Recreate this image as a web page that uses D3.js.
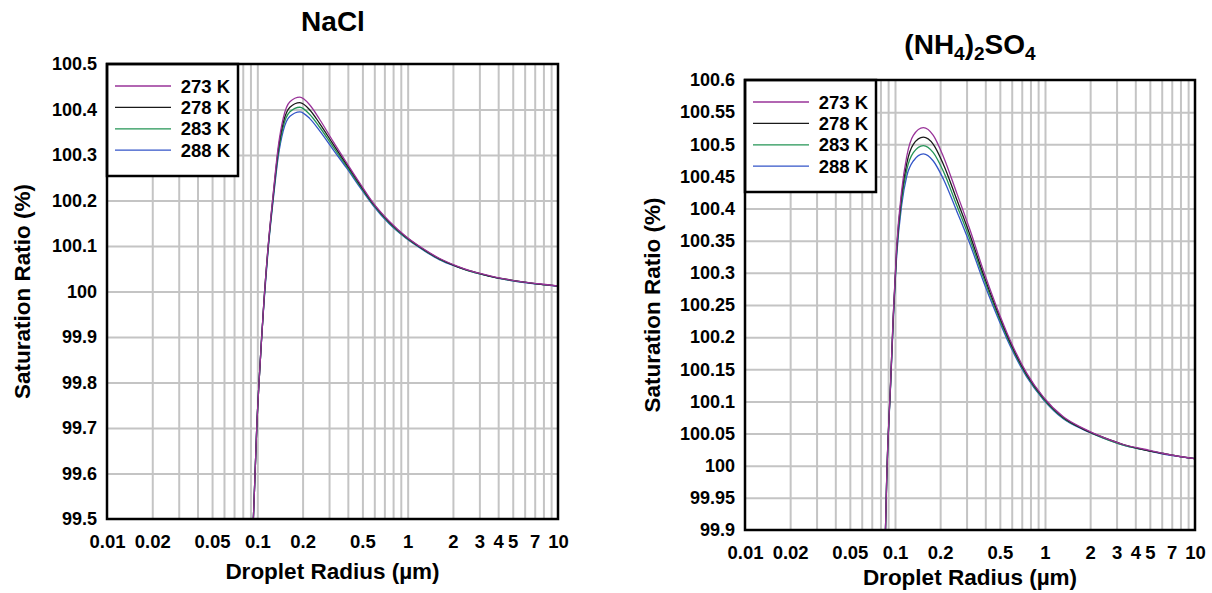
<!DOCTYPE html>
<html>
<head>
<meta charset="utf-8">
<script src="https://cdn.jsdelivr.net/npm/d3@7"></script>
<style>
  html, body { margin: 0; padding: 0; background: #fff; }
  svg { display: block; }
  text { font-family: "Liberation Sans", Arial, sans-serif; font-weight: bold; fill: #000; }
</style>
</head>
<body>
<svg id="chart" width="1212" height="593"></svg>
<script>
// ---------- data ----------
const seriesNames = ["273 K", "278 K", "283 K", "288 K"];
const seriesColors = ["#993399", "#1a1a1a", "#239455", "#3355c8"];

const xTickValues = [0.01, 0.02, 0.05, 0.1, 0.2, 0.5, 1, 2, 3, 4, 5, 7, 10];
const xTickLabels = ["0.01", "0.02", "0.05", "0.1", "0.2", "0.5", "1", "2", "3", "4", "5", "7", "10"];

// NaCl panel
const naclTicksY = [99.5, 99.6, 99.7, 99.8, 99.9, 100, 100.1, 100.2, 100.3, 100.4, 100.5];
const naclTickLabelsY = ["99.5", "99.6", "99.7", "99.8", "99.9", "100", "100.1", "100.2", "100.3", "100.4", "100.5"];
const naclRadius = [0.0941, 0.0966, 0.0991, 0.1026, 0.1069, 0.1107, 0.118, 0.1276, 0.1377, 0.1487, 0.1647, 0.1918, 0.2234, 0.26, 0.319, 0.391, 0.479, 0.586, 0.757, 0.975, 1.257, 1.622, 2.09, 2.69, 3.48, 4.5, 5.8, 7.5, 10];
const nacl273 = [99.50, 99.60, 99.70, 99.80, 99.90, 99.98, 100.100, 100.216, 100.318, 100.381, 100.417, 100.427, 100.410, 100.378, 100.330, 100.284, 100.239, 100.196, 100.154, 100.121, 100.095, 100.073, 100.057, 100.044, 100.035, 100.027, 100.021, 100.017, 100.012];
const nacl278 = [99.50, 99.60, 99.70, 99.80, 99.90, 99.98, 100.098, 100.212, 100.311, 100.371, 100.405, 100.415, 100.399, 100.369, 100.324, 100.280, 100.236, 100.194, 100.152, 100.120, 100.094, 100.072, 100.056, 100.044, 100.034, 100.027, 100.021, 100.016, 100.012];
const nacl283 = [99.50, 99.60, 99.70, 99.80, 99.90, 99.978, 100.095, 100.207, 100.303, 100.362, 100.395, 100.405, 100.389, 100.361, 100.318, 100.276, 100.233, 100.192, 100.150, 100.118, 100.093, 100.071, 100.056, 100.043, 100.034, 100.026, 100.021, 100.016, 100.012];
const nacl288 = [99.50, 99.60, 99.70, 99.80, 99.90, 99.975, 100.092, 100.202, 100.296, 100.353, 100.385, 100.395, 100.380, 100.353, 100.312, 100.272, 100.230, 100.190, 100.148, 100.117, 100.092, 100.070, 100.055, 100.043, 100.034, 100.026, 100.020, 100.016, 100.011];

// (NH4)2SO4 panel
const amsTicksY = [99.9, 99.95, 100, 100.05, 100.1, 100.15, 100.2, 100.25, 100.3, 100.35, 100.4, 100.45, 100.5, 100.55, 100.6];
const amsTickLabelsY = ["99.9", "99.95", "100", "100.05", "100.1", "100.15", "100.2", "100.25", "100.3", "100.35", "100.4", "100.45", "100.5", "100.55", "100.6"];
const amsRadius = [0.0864, 0.088, 0.0936, 0.0975, 0.1026, 0.1109, 0.1197, 0.1325, 0.1545, 0.180, 0.210, 0.258, 0.316, 0.388, 0.476, 0.584, 0.755, 0.974, 1.325, 1.80, 2.45, 3.33, 4.52, 6.15, 9.26, 10];
const ams273 = [99.90, 99.978, 100.133, 100.237, 100.341, 100.429, 100.481, 100.514, 100.526, 100.514, 100.481, 100.424, 100.367, 100.304, 100.247, 100.196, 100.144, 100.107, 100.076, 100.058, 100.044, 100.033, 100.026, 100.019, 100.012, 100.011];
const ams278 = [99.90, 99.978, 100.132, 100.235, 100.337, 100.422, 100.470, 100.500, 100.511, 100.500, 100.469, 100.414, 100.359, 100.298, 100.243, 100.193, 100.142, 100.106, 100.075, 100.057, 100.044, 100.033, 100.025, 100.019, 100.012, 100.011];
const ams283 = [99.90, 99.977, 100.130, 100.232, 100.332, 100.414, 100.460, 100.487, 100.498, 100.487, 100.458, 100.405, 100.352, 100.293, 100.239, 100.190, 100.140, 100.104, 100.074, 100.057, 100.043, 100.032, 100.025, 100.019, 100.012, 100.011];
const ams288 = [99.90, 99.976, 100.128, 100.228, 100.326, 100.406, 100.450, 100.474, 100.485, 100.474, 100.446, 100.396, 100.345, 100.287, 100.235, 100.187, 100.138, 100.103, 100.073, 100.056, 100.043, 100.032, 100.025, 100.018, 100.012, 100.011];

// ---------- drawing ----------
const svg = d3.select("#chart");
const FONT = "Liberation Sans, Arial, sans-serif";

function minorGridValues() {
  const v = [];
  [0.01, 0.1, 1].forEach(dec => { for (let k = 2; k <= 10; k++) v.push(dec * k); });
  return v.filter(d => d < 10);
}

function panel(cfg) {
  const g = svg.append("g");
  const x = d3.scaleLog().domain([0.01, 10]).range([cfg.x0, cfg.x1]);
  const y = d3.scaleLinear().domain(cfg.yDomain).range([cfg.y1, cfg.y0]);
  const w = cfg.x1 - cfg.x0, h = cfg.y1 - cfg.y0;

  // vertical gridlines
  g.append("g")
    .attr("transform", `translate(0,${cfg.y1})`)
    .call(d3.axisBottom(x).tickValues(minorGridValues()).tickSize(-h).tickFormat(""))
    .call(s => s.select(".domain").remove())
    .call(s => s.selectAll("line").attr("stroke", "#c4c4c4").attr("stroke-width", 2));

  // horizontal gridlines
  g.append("g")
    .attr("transform", `translate(${cfg.x0},0)`)
    .call(d3.axisLeft(y).tickValues(cfg.yTicks.slice(1, -1)).tickSize(-w).tickFormat(""))
    .call(s => s.select(".domain").remove())
    .call(s => s.selectAll("line").attr("stroke", "#c4c4c4").attr("stroke-width", 2));

  // clip
  const clipId = "clip" + cfg.id;
  svg.append("defs").append("clipPath").attr("id", clipId)
    .append("rect").attr("x", cfg.x0).attr("y", cfg.y0).attr("width", w).attr("height", h);

  const line = d3.line().x(d => x(d[0])).y(d => y(d[1])).curve(d3.curveMonotoneX);
  const curves = g.append("g").attr("clip-path", `url(#${clipId})`);
  for (let i = cfg.series.length - 1; i >= 0; i--) {
    const pts = cfg.radius.map((r, j) => [r, cfg.series[i][j]]);
    curves.append("path").attr("d", line(pts))
      .attr("fill", "none").attr("stroke", seriesColors[i]).attr("stroke-width", 1.3);
  }

  // y tick labels
  g.append("g")
    .attr("transform", `translate(${cfg.x0},0)`)
    .call(d3.axisLeft(y).tickValues(cfg.yTicks).tickSize(0).tickPadding(10)
      .tickFormat((d, i) => cfg.yLabels[i]))
    .call(s => s.select(".domain").remove())
    .call(s => s.selectAll("text").attr("font-size", 18).attr("font-family", FONT).attr("font-weight", "bold").attr("fill", "#000"));

  // x tick labels
  g.append("g")
    .attr("transform", `translate(0,${cfg.y1})`)
    .call(d3.axisBottom(x).tickValues(xTickValues).tickSize(0).tickPadding(16)
      .tickFormat((d, i) => xTickLabels[i]))
    .call(s => s.select(".domain").remove())
    .call(s => s.selectAll("text").attr("font-size", 18.5).attr("font-family", FONT).attr("font-weight", "bold").attr("fill", "#000"));

  // legend
  const lg = g.append("g");
  lg.append("rect").attr("x", cfg.x0).attr("y", cfg.y0).attr("width", 131).attr("height", 112)
    .attr("fill", "#fff").attr("stroke", "#000").attr("stroke-width", 2.5);
  seriesNames.forEach((name, i) => {
    const yy = cfg.y0 + 22 + i * 21.4;
    lg.append("line").attr("x1", cfg.x0 + 8).attr("x2", cfg.x0 + 64).attr("y1", yy).attr("y2", yy)
      .attr("stroke", seriesColors[i]).attr("stroke-width", 1.3);
    lg.append("text").attr("x", cfg.x0 + 123).attr("y", yy).attr("dy", "0.36em")
      .attr("text-anchor", "end").attr("font-size", 18.5).text(name);
  });

  // frame
  g.append("rect").attr("x", cfg.x0).attr("y", cfg.y0).attr("width", w).attr("height", h)
    .attr("fill", "none").attr("stroke", "#000").attr("stroke-width", 2.5);

  // axis titles
  g.append("text").attr("x", (cfg.x0 + cfg.x1) / 2).attr("y", cfg.y1 + cfg.xTitleOffset)
    .attr("text-anchor", "middle").attr("font-size", 22.5).text("Droplet Radius (\u00b5m)");
  g.append("text")
    .attr("transform", `translate(${cfg.yTitleX},${(cfg.y0 + cfg.y1) / 2}) rotate(-90)`)
    .attr("text-anchor", "middle").attr("dy", "0.36em").attr("font-size", 22.5).text("Saturation Ratio (%)");

  return g;
}

panel({
  id: "nacl", x0: 107, x1: 558, y0: 64, y1: 519, yDomain: [99.5, 100.5],
  yTicks: naclTicksY, yLabels: naclTickLabelsY, yTitleX: 22, xTitleOffset: 60,
  radius: naclRadius, series: [nacl273, nacl278, nacl283, nacl288]
});
panel({
  id: "ams", x0: 745, x1: 1195, y0: 80, y1: 530, yDomain: [99.9, 100.6],
  yTicks: amsTicksY, yLabels: amsTickLabelsY, yTitleX: 652, xTitleOffset: 55,
  radius: amsRadius, series: [ams273, ams278, ams283, ams288]
});

// panel titles
svg.append("text").attr("x", 333).attr("y", 31).attr("text-anchor", "middle")
  .attr("font-size", 28).text("NaCl");
const t2 = svg.append("text").attr("x", 970).attr("y", 54).attr("text-anchor", "middle").attr("font-size", 28);
t2.append("tspan").text("(NH");
t2.append("tspan").attr("font-size", 19).attr("dy", 6).text("4");
t2.append("tspan").attr("dy", -6).text(")");
t2.append("tspan").attr("font-size", 19).attr("dy", 6).text("2");
t2.append("tspan").attr("dy", -6).text("SO");
t2.append("tspan").attr("font-size", 19).attr("dy", 6).text("4");
</script>
</body>
</html>
